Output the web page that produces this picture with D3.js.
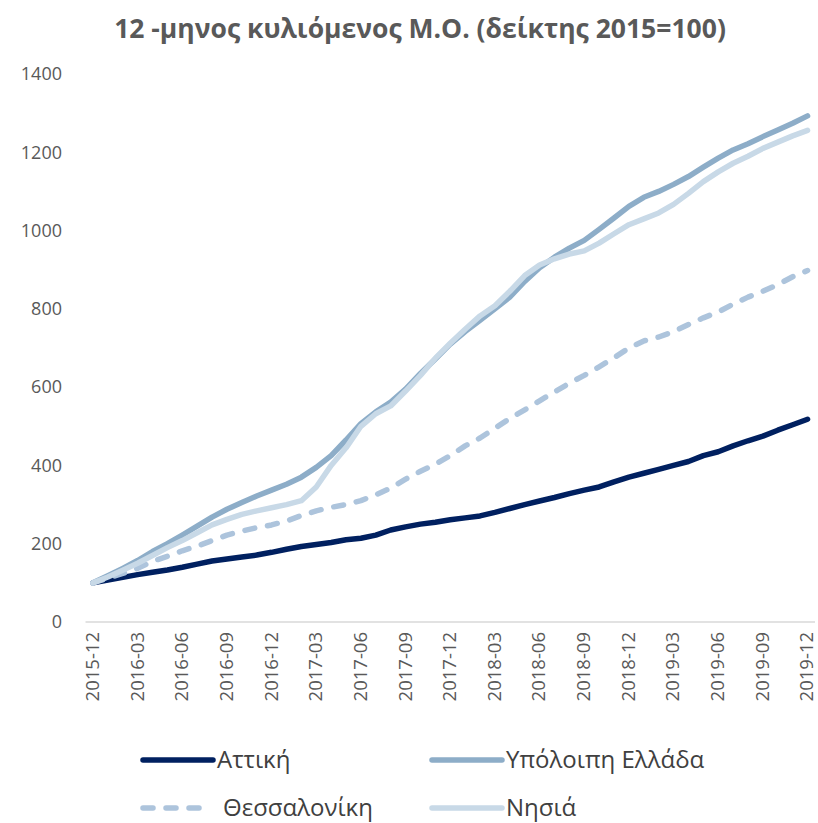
<!DOCTYPE html>
<html>
<head>
<meta charset="utf-8">
<script src="https://cdn.jsdelivr.net/npm/d3@7"></script>
<style>
  body { margin: 0; background: #fff; }
  svg { display: block; font-family: "Open Sans", "Noto Sans", sans-serif; }
</style>
</head>
<body>
<svg id="chart" width="818" height="823"></svg>
<script>
// months 2015-12 .. 2019-12
const months = d3.range(49).map(i => {
  const m = (11 + i) % 12 + 1, y = 2015 + Math.floor((11 + i) / 12);
  return `${y}-${String(m).padStart(2, "0")}`;
});

const attiki = [100, 107, 114, 121, 127, 133, 140, 148, 156, 161, 166, 171, 178, 186, 193, 198, 203, 210, 214, 222, 235, 243, 250, 255, 261, 266, 271, 280, 290, 300, 309, 318, 328, 337, 345, 358, 370, 380, 390, 400, 410, 425, 435, 450, 463, 475, 490, 504, 518];
const ypoloipi = [100, 118, 137, 157, 180, 200, 222, 245, 268, 288, 305, 322, 337, 352, 370, 395, 425, 465, 507, 537, 562, 595, 635, 672, 710, 742, 771, 800, 830, 870, 905, 932, 955, 975, 1003, 1032, 1062, 1085, 1100, 1118, 1138, 1162, 1185, 1206, 1222, 1240, 1257, 1274, 1293];
const thessaloniki = [100, 112, 124, 137, 155, 168, 182, 194, 208, 222, 232, 241, 248, 258, 272, 284, 293, 300, 310, 325, 342, 365, 385, 403, 425, 450, 470, 495, 520, 542, 565, 588, 610, 630, 652, 675, 700, 718, 728, 742, 760, 777, 792, 812, 830, 845, 862, 882, 898];
const nisia = [100, 115, 132, 150, 170, 190, 208, 228, 248, 262, 275, 284, 292, 300, 310, 345, 400, 445, 500, 532, 552, 590, 630, 674, 712, 748, 782, 808, 845, 885, 912, 928, 940, 948, 968, 992, 1015, 1030, 1045, 1067, 1095, 1125, 1150, 1172, 1190, 1210, 1226, 1242, 1256];

const yTicks = [0, 200, 400, 600, 800, 1000, 1200, 1400];

const series = [
  {name: "Αττική", values: attiki, color: "#002060", dash: null},
  {name: "Υπόλοιπη Ελλάδα", values: ypoloipi, color: "#8dadc8", dash: null},
  {name: "Θεσσαλονίκη", values: thessaloniki, color: "#adc4dc", dash: "10,13"},
  {name: "Νησιά", values: nisia, color: "#c8d9e7", dash: null}
];

const svg = d3.select("#chart");
const margin = {top: 74, right: 3, bottom: 201, left: 85.5};
const width = 818, height = 823;

const x = d3.scalePoint()
    .domain(months)
    .range([margin.left, width - margin.right])
    .padding(0.5);

const y = d3.scaleLinear()
    .domain([0, 1400])
    .range([height - margin.bottom, margin.top]);

// title
svg.append("text")
    .attr("x", 420)
    .attr("y", 38)
    .attr("text-anchor", "middle")
    .attr("font-size", 26.5)
    .attr("font-weight", "bold")
    .attr("fill", "#595959")
    .text("12 -μηνος κυλιόμενος Μ.Ο. (δείκτης 2015=100)");

// y axis labels
svg.append("g")
  .selectAll("text")
  .data(yTicks)
  .join("text")
    .attr("x", 62)
    .attr("y", d => y(d))
    .attr("dy", "0.35em")
    .attr("text-anchor", "end")
    .attr("font-size", 18)
    .attr("fill", "#595959")
    .text(d => d);

// x axis line
svg.append("line")
    .attr("x1", margin.left)
    .attr("x2", width - margin.right)
    .attr("y1", y(0))
    .attr("y2", y(0))
    .attr("stroke", "#d9d9d9")
    .attr("stroke-width", 1.3);

// x tick labels, every 3rd month
svg.append("g")
  .selectAll("text")
  .data(months.filter((d, i) => i % 3 === 0))
  .join("text")
    .attr("transform", d => `translate(${x(d)},${y(0) + 10}) rotate(-90)`)
    .attr("dy", "0.32em")
    .attr("text-anchor", "end")
    .attr("font-size", 18.5)
    .attr("fill", "#595959")
    .text(d => d);

const line = d3.line()
    .x((d, i) => x(months[i]))
    .y(d => y(d));

svg.append("g")
  .selectAll("path")
  .data(series)
  .join("path")
    .attr("d", d => line(d.values))
    .attr("fill", "none")
    .attr("stroke", d => d.color)
    .attr("stroke-width", 5.5)
    .attr("stroke-linejoin", "round")
    .attr("stroke-linecap", "round")
    .attr("stroke-dasharray", d => d.dash);

// legend
const legendPos = [[143, 760], [432, 760], [143, 808], [432, 808]];
const legend = svg.append("g")
  .selectAll("g")
  .data(series)
  .join("g")
    .attr("transform", (d, i) => `translate(${legendPos[i][0]},${legendPos[i][1]})`);

legend.append("line")
    .attr("x1", 0)
    .attr("x2", d => d.dash ? 67 : 70)
    .attr("stroke", d => d.color)
    .attr("stroke-width", 5.5)
    .attr("stroke-linecap", "round")
    .attr("stroke-dasharray", d => d.dash);

legend.append("text")
    .attr("x", d => d.dash ? 80 : 74)
    .attr("dy", "0.35em")
    .attr("font-size", 24)
    .attr("fill", "#404040")
    .text(d => d.name);
</script>
</body>
</html>
